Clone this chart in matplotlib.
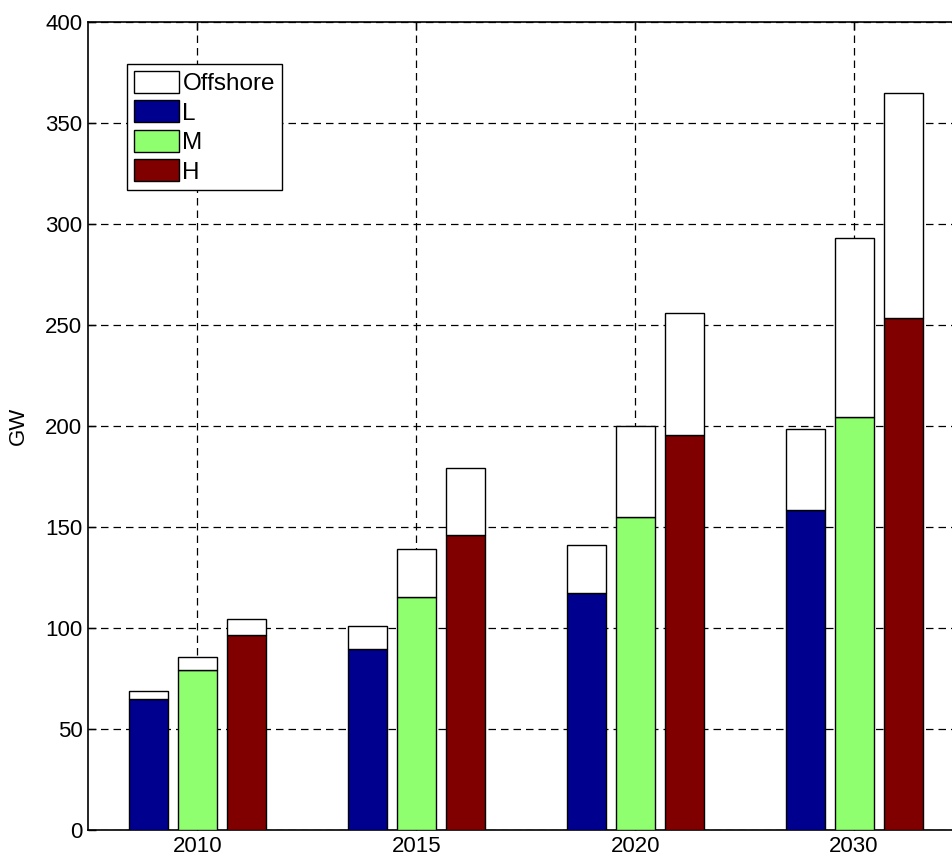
import numpy as np
import matplotlib.pyplot as plt
from matplotlib.patches import Patch

plt.rcParams['font.family'] = ['Liberation Sans', 'DejaVu Sans']

years = ['2010', '2015', '2020', '2030']
scenarios = ['L', 'M', 'H']

# onshore capacity per scenario (GW)
onshore_L = [65, 89.5, 117.5, 158.5]
onshore_M = [79, 115.5, 155, 204.5]
onshore_H = [96.5, 146, 195.5, 253.5]

# total capacity incl. offshore (GW)
total_L = [69, 101, 141, 198.5]
total_M = [85.5, 139, 200, 293]
total_H = [104.5, 179, 256, 365]

colors = {'L': '#00008F', 'M': '#8FFF70', 'H': '#800000'}

W, H = 952, 859
fig = plt.figure(figsize=(W / 100, H / 100), dpi=100)
# right edge of the axes runs past the figure border
ax = fig.add_axes([88 / W, 29 / H, 875.5 / W, 808 / H])

x = np.arange(1, len(years) + 1)
offset = 0.2237
width = 0.178

onshore = {'L': onshore_L, 'M': onshore_M, 'H': onshore_H}
total = {'L': total_L, 'M': total_M, 'H': total_H}

for i, s in enumerate(scenarios):
    pos = x + (i - 1) * offset
    base = np.array(onshore[s])
    off = np.array(total[s]) - base
    ax.bar(pos, base, width, color=colors[s], edgecolor='k', linewidth=1, zorder=3)
    ax.bar(pos, off, width, bottom=base, color='white', edgecolor='k', linewidth=1, zorder=3)

ax.set_xlim(0.5, 4.5)
ax.set_ylim(0, 400)
ax.set_xticks(x)
ax.set_xticklabels(years)
ax.set_yticks(np.arange(0, 401, 50))
ax.set_ylabel('GW', fontsize=16, labelpad=12)

ax.grid(True, color='k', linestyle=(0, (6, 4)), linewidth=0.9, zorder=1)
ax.set_axisbelow(True)
ax.tick_params(direction='in', top=True, right=True, length=6, width=1,
               labelsize=16, pad=4)
for sp in ax.spines.values():
    sp.set_linewidth(1.2)

handles = [Patch(facecolor='white', edgecolor='k', label='Offshore')]
handles += [Patch(facecolor=colors[s], edgecolor='k', label=s) for s in scenarios]
leg = ax.legend(handles=handles, loc='upper left',
                bbox_to_anchor=(127 / W, 1 - 64 / H), bbox_transform=fig.transFigure,
                fontsize=17.5, fancybox=False, edgecolor='k', framealpha=1,
                handlelength=1.85, handleheight=1.0, handletextpad=0.15,
                labelspacing=0.22, borderpad=0.28, borderaxespad=0)
leg.get_frame().set_linewidth(1)

fig.savefig('out.png', dpi=100)
